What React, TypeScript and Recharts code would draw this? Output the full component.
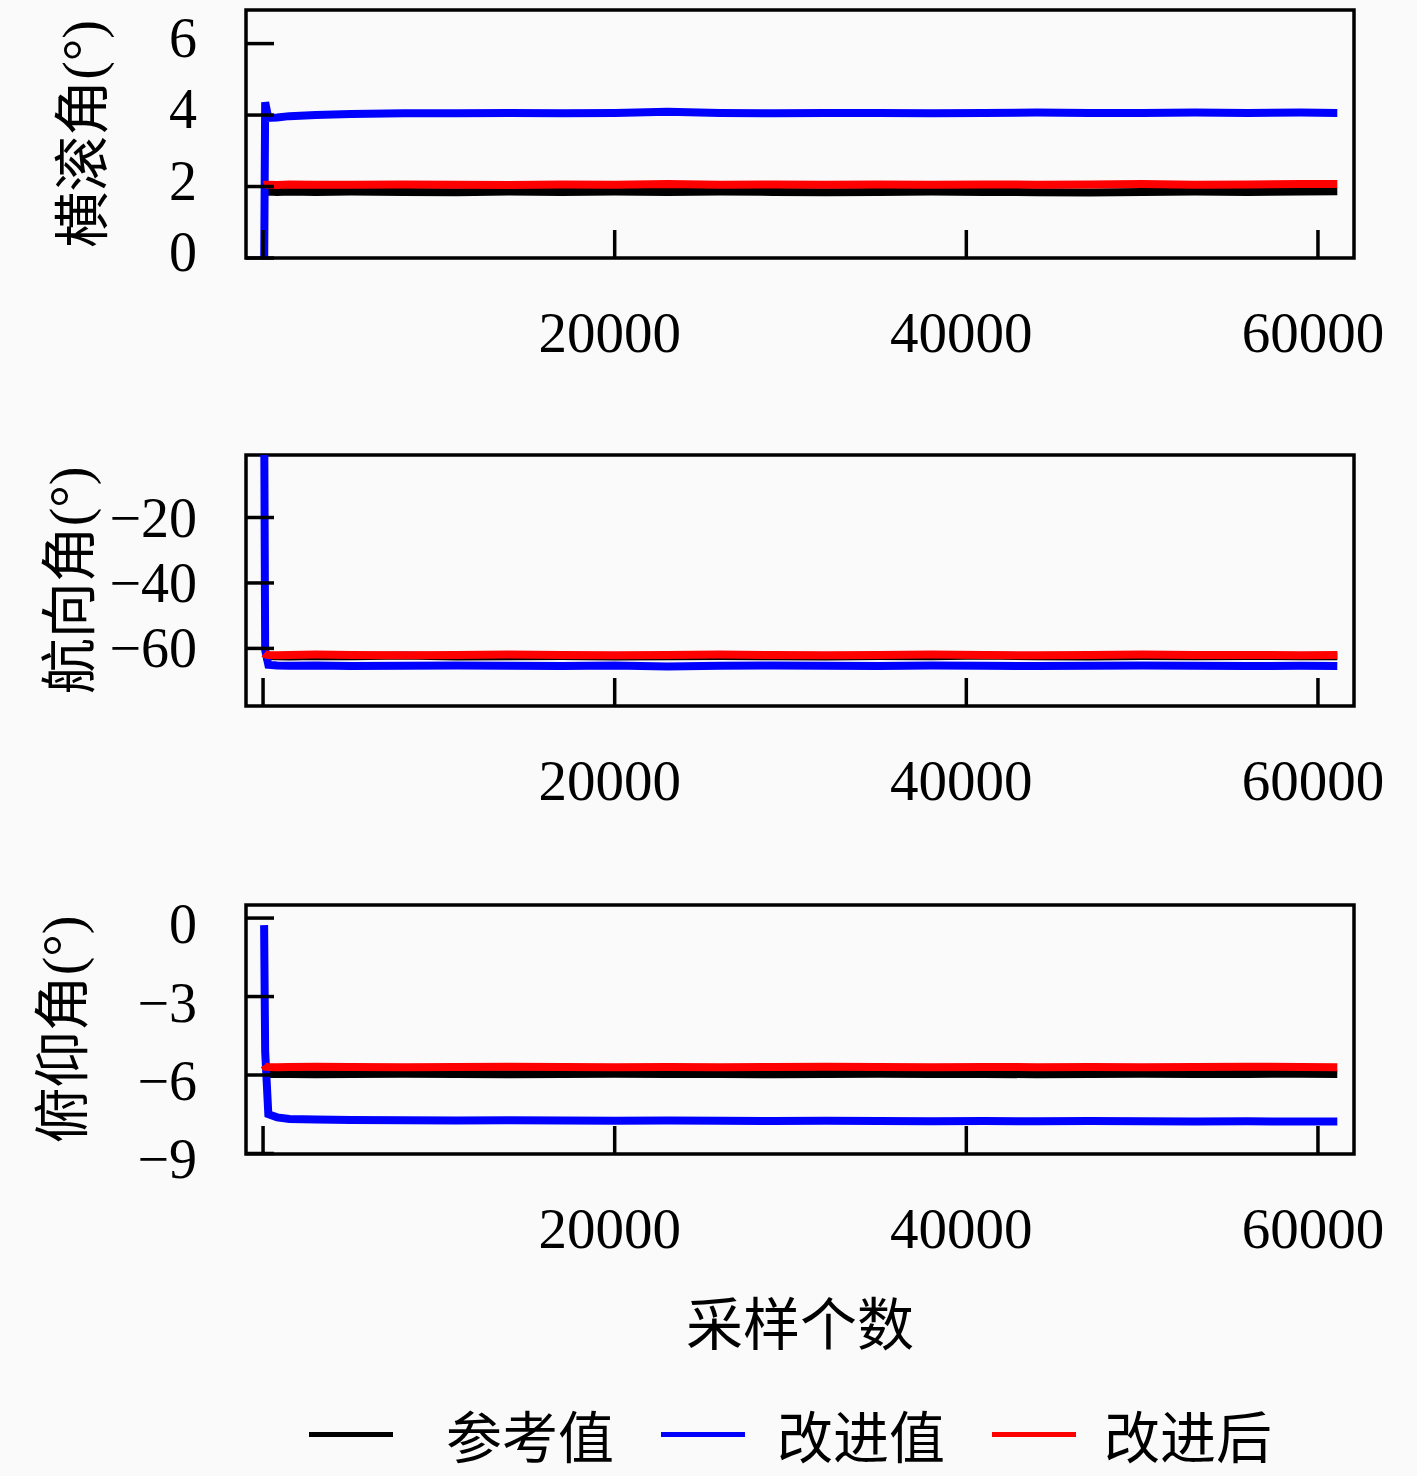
import React from 'react';
import { LineChart, Line, XAxis, YAxis, ReferenceArea, Legend } from 'recharts';

const FONT = "'Liberation Serif', 'Noto Sans CJK SC', serif";
const CJK = "'Noto Sans CJK SC', sans-serif";

const seriesNames = ['参考值', '改进值', '改进后'];
const seriesColors = ['#000000', '#0000ff', '#ff0000'];
const xTitle = '采样个数';
const yTitles = ['横滚角(°)', '航向角(°)', '俯仰角(°)'];

const samples = [60, 120, 300, 800, 1500, 3000, 5000, 8000, 11000, 14000, 17000, 20000, 23000, 26000, 29000, 32000, 35000, 38000, 41000, 44000, 47000, 50000, 53000, 56000, 59000, 61100];
const xTicks = [0, 20000, 40000, 60000];
const xDomain = [-970, 62050];

// Roll
const rollRef = [1.86, 1.85, 1.86, 1.85, 1.86, 1.85, 1.86, 1.85, 1.84, 1.86, 1.85, 1.86, 1.85, 1.86, 1.85, 1.84, 1.85, 1.86, 1.85, 1.84, 1.83, 1.85, 1.86, 1.85, 1.86, 1.87];
const rollImp = [-0.5, 4.36, 3.92, 3.93, 3.97, 4.0, 4.03, 4.05, 4.05, 4.06, 4.05, 4.06, 4.09, 4.06, 4.05, 4.06, 4.06, 4.05, 4.06, 4.07, 4.06, 4.06, 4.07, 4.06, 4.07, 4.06];
const rollAft = [2.04, 2.05, 2.05, 2.04, 2.06, 2.05, 2.05, 2.06, 2.05, 2.04, 2.06, 2.05, 2.07, 2.05, 2.06, 2.05, 2.06, 2.05, 2.06, 2.05, 2.06, 2.07, 2.05, 2.06, 2.07, 2.07];
const rollTicks = [0, 2, 4, 6];
const rollDomain = [0, 6.94];

// Yaw
const yawRef = [-62.4, -62.5, -62.3, -62.4, -62.5, -62.3, -62.4, -62.2, -62.5, -62.4, -62.3, -62.5, -62.4, -62.3, -62.4, -62.5, -62.3, -62.4, -62.2, -62.4, -62.5, -62.3, -62.4, -62.3, -62.4, -62.4];
const yawImp = [15, -60.5, -65.0, -65.2, -65.3, -65.2, -65.4, -65.3, -65.2, -65.3, -65.4, -65.2, -65.5, -65.3, -65.2, -65.3, -65.4, -65.2, -65.3, -65.4, -65.3, -65.2, -65.3, -65.4, -65.3, -65.4];
const yawAft = [-61.5, -61.8, -62.0, -62.1, -62.0, -61.9, -62.0, -62.1, -62.0, -61.9, -62.0, -62.1, -62.0, -61.9, -62.0, -62.1, -62.0, -61.9, -62.0, -62.1, -62.0, -61.9, -62.0, -62.0, -62.1, -62.0];
const yawTicks = [-60, -40, -20];
const yawDomain = [-77.6, -0.9];

// Pitch
const pitchRef = [-5.95, -5.96, -5.96, -5.95, -5.96, -5.97, -5.96, -5.95, -5.96, -5.97, -5.96, -5.95, -5.96, -5.96, -5.97, -5.96, -5.95, -5.96, -5.96, -5.97, -5.96, -5.95, -5.96, -5.96, -5.95, -5.96];
const pitchImp = [-0.27, -5.1, -7.5, -7.62, -7.68, -7.7, -7.72, -7.73, -7.74, -7.73, -7.74, -7.75, -7.74, -7.75, -7.76, -7.75, -7.76, -7.77, -7.76, -7.77, -7.76, -7.77, -7.78, -7.77, -7.78, -7.78];
const pitchAft = [-5.62, -5.68, -5.69, -5.70, -5.69, -5.68, -5.69, -5.70, -5.69, -5.68, -5.69, -5.70, -5.69, -5.70, -5.69, -5.68, -5.69, -5.70, -5.69, -5.70, -5.69, -5.70, -5.69, -5.68, -5.69, -5.70];
const pitchTicks = [-9, -6, -3, 0];
const pitchDomain = [-9.02, 0.5];

const build = (a: number[], b: number[], c: number[]) =>
  samples.map((x, i) => ({ x, ref: a[i], imp: b[i], aft: c[i] }));

const rollData = build(rollRef, rollImp, rollAft);
const yawData = build(yawRef, yawImp, yawAft);
const pitchData = build(pitchRef, pitchImp, pitchAft);

const fmt = (v: number) => (v < 0 ? '\u2212' + Math.abs(v) : String(v));

const makeYTick = (dy: number) => (props: any) => {
  const { x, y, payload } = props;
  return (
    <g>
      <line x1={x} x2={x + 28} y1={y} y2={y} stroke="#000" strokeWidth={3.5} />
      <text x={x - 49} y={y + dy} textAnchor="end" dominantBaseline="central" fontFamily={FONT} fontSize={56} fill="#000">
        {fmt(payload.value)}
      </text>
    </g>
  );
};

const XTick = (props: any) => {
  const { x, y, payload } = props;
  return (
    <g>
      <line x1={x} x2={x} y1={y} y2={y - 28} stroke="#000" strokeWidth={3.5} />
      <text x={x - 5} y={y + 74} textAnchor="middle" dominantBaseline="central" fontFamily={FONT} fontSize={57} fill="#000">
        {payload.value === 0 ? '' : String(payload.value)}
      </text>
    </g>
  );
};

const makeYTitle = (text: string, cx: number) => (props: any) => {
  const vb = props.viewBox || {};
  const cy = vb.y + vb.height / 2;
  return (
    <text x={cx} y={cy} transform={`rotate(-90 ${cx} ${cy})`} textAnchor="middle" dominantBaseline="central" fontFamily={FONT} fontSize={56} fill="#000">
      {text}
    </text>
  );
};

const xTitleLabel = (props: any) => {
  const vb = props.viewBox || {};
  const cx = vb.x + vb.width / 2;
  const cy = vb.y + 166;
  return (
    <text x={cx} y={cy} textAnchor="middle" dominantBaseline="central" fontFamily={CJK} fontSize={57} fill="#000">
      {xTitle}
    </text>
  );
};

const legendGaps = [53, 32, 28];

const renderLegend = (props: any) => {
  const payload = props.payload || [];
  return (
    <div style={{ display: 'flex', alignItems: 'center', paddingLeft: 309, height: 56 }}>
      {payload.map((p: any, i: number) => (
        <div key={i} style={{ display: 'flex', alignItems: 'center', marginRight: 47 }}>
          <div style={{ width: 84, height: 5, background: p.color, marginRight: legendGaps[i] }} />
          <div style={{ fontFamily: CJK, fontSize: 56, lineHeight: '56px', height: 56, overflow: 'visible', color: '#000', whiteSpace: 'nowrap' }}>{p.value}</div>
        </div>
      ))}
    </div>
  );
};

type PanelProps = {
  data: any[];
  top: number;
  height: number;
  marginTop: number;
  axisHeight: number;
  yDomain: number[];
  yTicks: number[];
  yTitle: string;
  yTitleX: number;
  yTickDy: number;
  last?: boolean;
};

function Panel(p: PanelProps) {
  return (
    <div style={{ position: 'absolute', left: 0, top: p.top }}>
      <LineChart width={1417} height={p.height} data={p.data} margin={{ top: p.marginTop, right: 63, left: 0, bottom: 0 }}>
        <XAxis
          dataKey="x"
          type="number"
          domain={xDomain}
          ticks={xTicks}
          allowDataOverflow
          height={p.axisHeight}
          axisLine={false}
          tickLine={false}
          tickSize={0}
          tickMargin={0}
          tick={XTick}
          interval={0}
          label={p.last ? xTitleLabel : undefined}
        />
        <YAxis
          type="number"
          domain={p.yDomain}
          ticks={p.yTicks}
          allowDataOverflow
          width={246}
          axisLine={false}
          tickLine={false}
          tickSize={0}
          tickMargin={0}
          tick={makeYTick(p.yTickDy)}
          interval={0}
          label={makeYTitle(p.yTitle, p.yTitleX)}
        />
        <ReferenceArea
          x1={xDomain[0]}
          x2={xDomain[1]}
          y1={p.yDomain[0]}
          y2={p.yDomain[1]}
          fill="none"
          stroke="#000"
          strokeWidth={3.5}
          fillOpacity={0}
          ifOverflow="visible"
        />
        <Line dataKey="ref" name={seriesNames[0]} stroke={seriesColors[0]} strokeWidth={8} dot={false} isAnimationActive={false} />
        <Line dataKey="imp" name={seriesNames[1]} stroke={seriesColors[1]} strokeWidth={8} dot={false} isAnimationActive={false} />
        <Line dataKey="aft" name={seriesNames[2]} stroke={seriesColors[2]} strokeWidth={8} dot={false} isAnimationActive={false} />
        {p.last ? (
          <Legend
            layout="horizontal"
            verticalAlign="middle"
            align="center"
            wrapperStyle={{ left: 0, top: 526, width: 1417, height: 56 }}
            content={renderLegend}
          />
        ) : null}
      </LineChart>
    </div>
  );
}

export default function App() {
  return (
    <div style={{ position: 'absolute', left: 0, top: 0, width: 1417, height: 1476, background: '#fafafa', overflow: 'hidden' }}>
      <Panel data={rollData} top={0} height={440} marginTop={10} axisHeight={182} yDomain={rollDomain} yTicks={rollTicks} yTitle={yTitles[0]} yTitleX={83} yTickDy={-6} />
      <Panel data={yawData} top={440} height={440} marginTop={15} axisHeight={174} yDomain={yawDomain} yTicks={yawTicks} yTitle={yTitles[1]} yTitleX={70} yTickDy={0} />
      <Panel data={pitchData} top={880} height={596} marginTop={25} axisHeight={322} yDomain={pitchDomain} yTicks={pitchTicks} yTitle={yTitles[2]} yTitleX={63} yTickDy={6} last />
    </div>
  );
}
